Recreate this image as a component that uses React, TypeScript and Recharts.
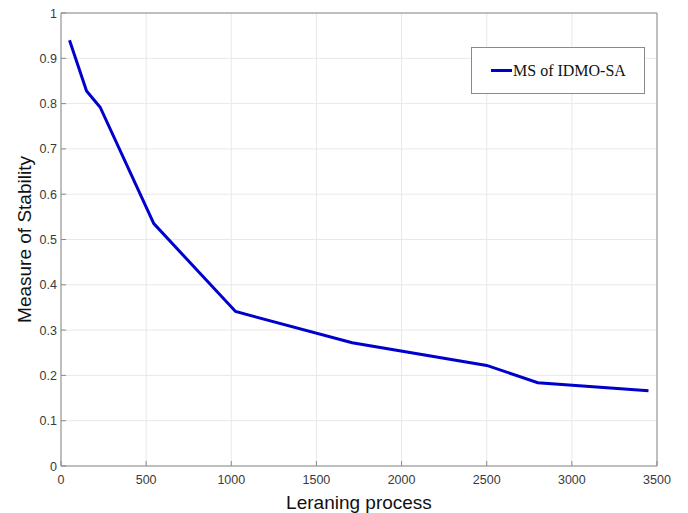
import { CartesianGrid, Legend, Line, LineChart, ReferenceArea, XAxis, YAxis } from "recharts";

const steps = [50, 150, 230, 545, 1025, 1710, 2500, 2800, 3450];
const stability = [0.94, 0.828, 0.792, 0.535, 0.341, 0.272, 0.222, 0.184, 0.166];
const xTicks = [0, 500, 1000, 1500, 2000, 2500, 3000, 3500];
const yTicks = [0, 0.1, 0.2, 0.3, 0.4, 0.5, 0.6, 0.7, 0.8, 0.9, 1];

const data = steps.map((x, i) => ({ x, ms: stability[i] }));

const BOX = "#8a8a8a";
const TICK_FONT = "'Liberation Sans', Arial, sans-serif";

const BottomTick = ({ x, y, payload }) => (
  <g>
    <line x1={x} x2={x} y1={y} y2={y - 5} stroke={BOX} />
    <text x={x} y={y + 18} textAnchor="middle" fontSize={12.5} fill="#3a3a3a" fontFamily={TICK_FONT}>
      {payload.value}
    </text>
  </g>
);

const TopTick = ({ x, y }) => <line x1={x} x2={x} y1={y} y2={y + 5} stroke={BOX} />;

const LeftTick = ({ x, y, payload }) => (
  <g>
    <line x1={x} x2={x + 5} y1={y} y2={y} stroke={BOX} />
    <text x={x - 4} y={y + 4.5} textAnchor="end" fontSize={12.5} fill="#3a3a3a" fontFamily={TICK_FONT}>
      {payload.value}
    </text>
  </g>
);

const RightTick = ({ x, y }) => <line x1={x} x2={x - 5} y1={y} y2={y} stroke={BOX} />;

const YLabel = ({ viewBox }) => {
  const cx = viewBox.x + 31;
  const cy = viewBox.y + viewBox.height / 2;
  return (
    <text
      x={cx}
      y={cy}
      transform={`rotate(-90, ${cx}, ${cy})`}
      textAnchor="middle"
      fontSize={19}
      fill="#111"
      fontFamily={TICK_FONT}
    >
      Measure of Stability
    </text>
  );
};

const LegendBox = () => (
  <div
    style={{
      boxSizing: "border-box",
      width: 174,
      height: 47,
      border: `1px solid ${BOX}`,
      background: "#fff",
      display: "flex",
      alignItems: "center",
      paddingLeft: 19,
    }}
  >
    <span style={{ display: "inline-block", width: 21, height: 3, background: "#0000cc" }} />
    <span style={{ fontFamily: "'Liberation Serif', 'Times New Roman', serif", fontSize: 16, color: "#111", marginLeft: 1 }}>
      MS of IDMO-SA
    </span>
  </div>
);

export default function App() {
  return (
    <>
      <style>{"body{margin:0}"}</style>
      <LineChart width={688} height={513} data={data} margin={{ top: 13, right: 31, bottom: 0, left: 0 }}>
        <CartesianGrid stroke="#e8e8e8" />
        <XAxis
          dataKey="x"
          type="number"
          domain={[0, 3500]}
          ticks={xTicks}
          height={47}
          axisLine={false}
          tickLine={false}
          tickSize={0}
          tickMargin={0}
          tick={BottomTick}
          label={{
            value: "Leraning process",
            position: "insideBottom",
            offset: 4,
            fontSize: 19,
            fill: "#111",
            fontFamily: TICK_FONT,
          }}
        />
        <XAxis
          xAxisId="top"
          orientation="top"
          type="number"
          domain={[0, 3500]}
          ticks={xTicks}
          height={0}
          axisLine={false}
          tickLine={false}
          tickSize={0}
          tickMargin={0}
          tick={TopTick}
        />
        <YAxis
          type="number"
          domain={[0, 1]}
          ticks={yTicks}
          width={61}
          axisLine={false}
          tickLine={false}
          tickSize={0}
          tickMargin={0}
          tick={LeftTick}
          label={{ content: YLabel }}
        />
        <YAxis
          yAxisId="right"
          orientation="right"
          type="number"
          domain={[0, 1]}
          ticks={yTicks}
          width={0}
          axisLine={false}
          tickLine={false}
          tickSize={0}
          tickMargin={0}
          tick={RightTick}
        />
        <ReferenceArea x1={0} x2={3500} y1={0} y2={1} fill="none" stroke={BOX} strokeWidth={1} ifOverflow="extendDomain" />
        <Line
          dataKey="ms"
          type="linear"
          stroke="#0000cc"
          strokeWidth={3}
          dot={false}
          isAnimationActive={false}
        />
        <Legend
          layout="horizontal"
          verticalAlign="middle"
          align="center"
          content={LegendBox}
          wrapperStyle={{ left: 471, top: 47, width: 174, height: 47 }}
        />
      </LineChart>
    </>
  );
}
